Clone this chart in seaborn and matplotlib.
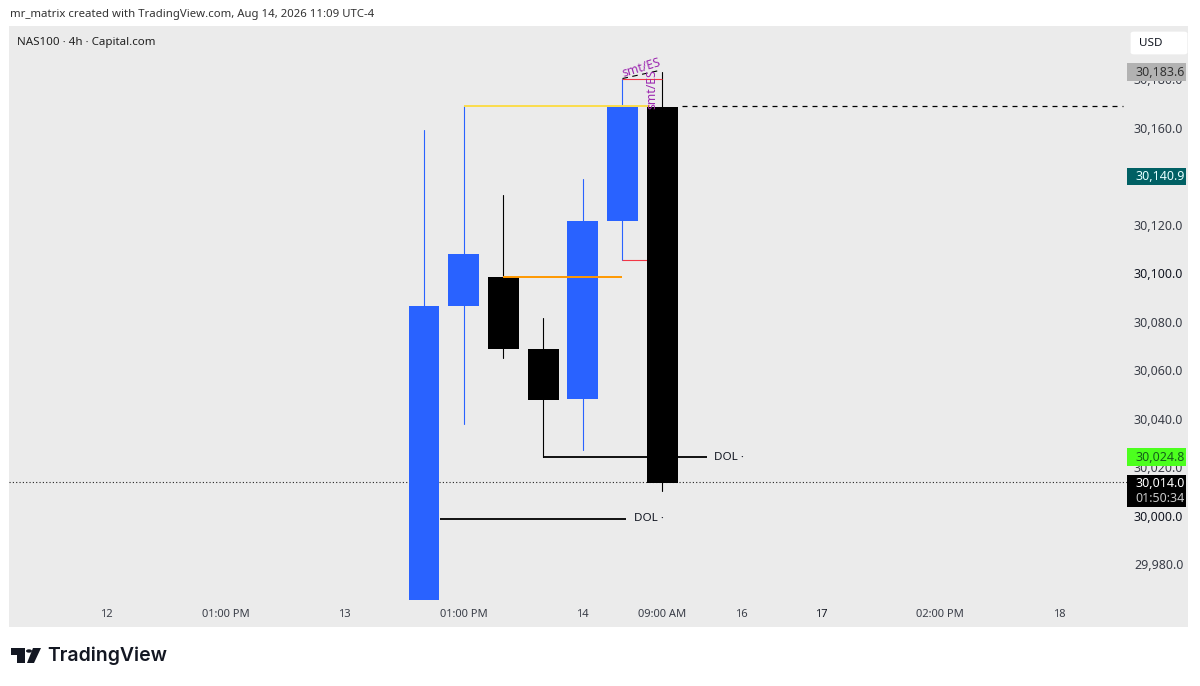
import seaborn as sns
from matplotlib import pyplot as plt
from matplotlib.patches import Rectangle, FancyBboxPatch, Polygon, Circle
import pandas as pd

# Candles
candle_idx = [0, 1, 2, 3, 4, 5, 6]
opens = [29965.4, 30086.6, 30098.6, 30068.9, 30048.2, 30121.6, 30168.7]
closes = [30086.6, 30108.0, 30068.9, 30047.8, 30121.6, 30168.7, 30013.5]
highs = [30159.2, 30169.1, 30132.4, 30081.6, 30139.0, 30180.2, 30183.1]
lows = [29965.4, 30037.9, 30065.2, 30024.3, 30027.2, 30105.6, 30010.3]

# Axis ticks
price_ticks = [29980, 30000, 30020, 30040, 30060, 30080, 30100, 30120, 30140, 30160, 30180]
price_dark = [30000, 30100]
time_ticks = [-8, -5, -2, 1, 4, 6, 8, 10, 13, 16]
time_labels = ['12', '01:00 PM', '13', '01:00 PM', '14', '09:00 AM', '16', '17', '02:00 PM', '18']

# Drawn levels
yellow_level = 30169.0
orange_level = 30098.6
red_low_level = 30105.6
red_high_level = 30180.0
dashed_level = 30169.0
last_price = 30014.0
dol_upper = 30024.3
dol_lower = 29998.8

BLUE = '#2962FF'
GRAY = '#EBEBEB'

sns.set_theme(style='white')
plt.rcParams['font.family'] = ['Noto Sans', 'DejaVu Sans']

W, H = 1200, 686
fig = plt.figure(figsize=(12, 6.86), dpi=100, facecolor='white')
ax = fig.add_axes([9 / W, 1 - 600 / H, 1118 / W, 574 / H], facecolor=GRAY)

# Gray panel under the chart and the two price/time axes
fig.add_artist(Rectangle((9 / W, 1 - 627 / H), 1179 / W, 601 / H, transform=fig.transFigure,
                         facecolor=GRAY, edgecolor='none', zorder=-1))

df = pd.DataFrame({'idx': candle_idx, 'open': opens, 'close': closes, 'high': highs, 'low': lows})
df['height'] = (df['close'] - df['open']).abs()
df['bottom'] = df[['open', 'close']].min(axis=1)
df['up'] = df['close'] >= df['open']

# Wicks
for up, color in [(True, BLUE), (False, 'black')]:
    sub = df[df['up'] == up]
    wicks = pd.concat([sub[['idx', 'high']].rename(columns={'high': 'price'}),
                       sub[['idx', 'low']].rename(columns={'low': 'price'})])
    sns.lineplot(data=wicks, x='idx', y='price', units='idx', estimator=None, color=color,
                 linewidth=0.8, ax=ax, zorder=2)

# Bodies
for up, color in [(True, BLUE), (False, 'black')]:
    sub = df[df['up'] == up]
    sns.barplot(data=sub, x='idx', y='height', bottom=sub['bottom'].values, native_scale=True,
                color=color, saturation=1, width=0.78, gap=0, errorbar=None, ax=ax, zorder=3,
                edgecolor='none', linewidth=0)

ax.set_xlim(-10.453, 17.708)
ax.set_ylim(29965.36, 30202.06)
ax.set_xlabel('')
ax.set_ylabel('')
for side in ax.spines:
    ax.spines[side].set_visible(False)

# Levels
ax.hlines(yellow_level, 1, 5.7, color='#FBDC4B', linewidth=1.4, zorder=4)
ax.hlines(orange_level, 2, 5, color='#FF9800', linewidth=1.4, zorder=4)
ax.hlines(red_low_level, 5, 5.65, color='#F23645', linewidth=0.8, zorder=2)
ax.hlines(red_high_level, 5, 6, color='#F23645', linewidth=0.8, zorder=2)
ax.plot([5, 5.9], [30180.4, 30183.6], color='black', linewidth=0.8, linestyle=(0, (5, 4)), zorder=2)
ax.hlines(dashed_level, 6.5, 17.6, color='black', linewidth=0.9, linestyle=(0, (4, 4)), zorder=2)
ax.axhline(last_price, color='#222222', linewidth=0.8, linestyle=(0, (1, 2)), zorder=1)
ax.hlines(dol_upper, 3, 7.13, color='black', linewidth=1.3, zorder=4)
ax.hlines(dol_lower, 0.4, 5.09, color='black', linewidth=1.3, zorder=4)
ax.text(7.3, dol_upper, 'DOL ·', fontsize=8.4, color='#131722', va='center', ha='left')
ax.text(5.29, dol_lower, 'DOL ·', fontsize=8.4, color='#131722', va='center', ha='left')
ax.text(5.47, 30185.0, 'smt/ES', fontsize=8.8, color='#9C27B0', rotation=17, ha='center', va='center', zorder=6)
ax.text(5.74, 30176.0, 'smt/ES', fontsize=8.8, color='#9C27B0', rotation=90, ha='center', va='center', zorder=6)

ax.text(8 / 1118, 1 - 16 / 574, 'NAS100 · 4h · Capital.com', transform=ax.transAxes, fontsize=8.3,
        color='#222222', va='center', ha='left')

# Axis ticks and labels
ax.yaxis.tick_right()
ax.set_yticks(price_ticks)
ax.set_yticklabels([f'{p:,.1f}' for p in price_ticks])
ax.set_xticks(time_ticks)
ax.set_xticklabels(time_labels)
ax.tick_params(axis='y', length=0, pad=5, labelsize=9, labelcolor='#3A3E48')
ax.tick_params(axis='x', length=0, pad=6.5, labelsize=8, labelcolor='#3A3E48')
for lab, p in zip(ax.get_yticklabels(), price_ticks):
    if p in price_dark:
        lab.set_color('#131722')
for lab, t in zip(ax.get_xticklabels(), time_labels):
    if t == '17':
        lab.set_fontweight('bold')
        lab.set_color('#131722')

trans = ax.get_yaxis_transform()


# Colored price tags sitting on the price axis, box sizes in price units
def price_tag(center, half_height, bg):
    ax.add_patch(Rectangle((1.0, center - half_height), 59 / 1118, 2 * half_height, transform=trans,
                           facecolor=bg, edgecolor='none', clip_on=False, zorder=7))


def tag_text(price, text, fg):
    ax.text(1 + 8 / 1118, price, text, transform=trans, fontsize=9, color=fg, va='center', ha='left',
            clip_on=False, zorder=8)


price_tag(30183.0, 3.7, '#B2B2B2')
tag_text(30183.0, '30,183.6', '#333333')
price_tag(30140.0, 3.6, '#006064')
tag_text(30140.0, '30,140.9', '#E6FFFF')
price_tag(30024.3, 3.7, '#4CFF1E')
tag_text(30024.3, '30,024.8', '#14601A')
price_tag(30010.3, 6.6, 'black')
tag_text(30013.6, '30,014.0', 'white')
tag_text(30007.2, '01:50:34', '#C8C8C8')

# USD button
fig.add_artist(FancyBboxPatch((1133 / W, 1 - 53 / H), 52 / W, 20 / H, transform=fig.transFigure,
                              boxstyle='round,pad=0.002,rounding_size=0.003', facecolor='white',
                              edgecolor='none', zorder=5))
fig.text(1139 / W, 1 - 43 / H, 'USD', fontsize=8.4, color='#131722', va='center', ha='left', zorder=6)

# Header line
fig.text(10 / W, 1 - 14 / H, 'mr_matrix created with TradingView.com, Aug 14, 2026 11:09 UTC-4', fontsize=8.2,
         color='#333333', va='center', ha='left')


# TradingView footer, logo in pixel coordinates of the image
def px(points):
    return [(x / W, 1 - y / H) for x, y in points]


for shape in ([(11, 648), (25, 648), (25, 663), (17, 663), (17, 655), (11, 655)],
              [(33, 648), (41, 648), (34, 663), (27, 663)]):
    fig.add_artist(Polygon(px(shape), closed=True, transform=fig.transFigure, facecolor='#131722', edgecolor='none'))
fig.add_artist(Circle((29 / W, 1 - 651 / H), 3 / W, transform=fig.transFigure, facecolor='#131722',
                      edgecolor='none'))
fig.text(47 / W, 1 - 656 / H, 'TradingView', fontsize=14, family='Inter', fontweight='semibold', color='#131722',
         va='center', ha='left')

fig.savefig('out.png', dpi=100)
